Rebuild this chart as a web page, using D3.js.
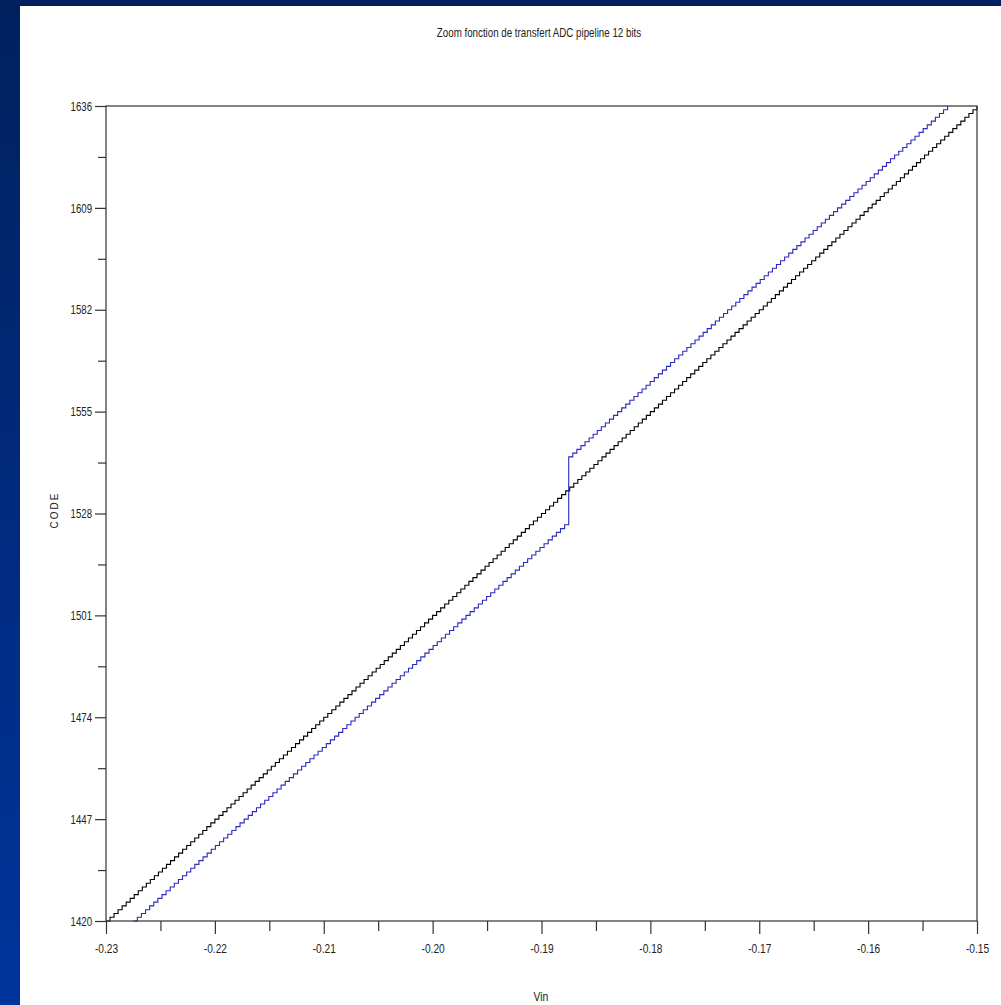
<!DOCTYPE html>
<html>
<head>
<meta charset="utf-8">
<script src="https://cdn.jsdelivr.net/npm/d3@7"></script>
<style>
  html, body { margin: 0; padding: 0; background: #fff; }
  svg { display: block; }
  text { font-family: "Liberation Sans", Arial, sans-serif; fill: #222; }
</style>
</head>
<body>
<div id="chart"></div>
<script>
// values
var xTicks = [-0.23, -0.22, -0.21, -0.20, -0.19, -0.18, -0.17, -0.16, -0.15];
var xTickLabels = ["-0.23", "-0.22", "-0.21", "-0.20", "-0.19", "-0.18", "-0.17", "-0.16", "-0.15"];
var yTicks = [1420, 1447, 1474, 1501, 1528, 1555, 1582, 1609, 1636];

// ideal converter (black): segment end points
var idealVin = [-0.23, -0.15];
var idealCode = [1420, 1636];

// pipeline ADC (blue): two segments with the missing codes jump near -0.1875
var adcVin = [-0.2275, -0.1875, -0.1875, -0.1527];
var adcCode = [1420, 1526, 1543, 1636];

var width = 1001, height = 1005;
var margin = {top: 106, right: 24, bottom: 84, left: 106};

var svg = d3.select("#chart")
  .append("svg")
    .attr("width", width)
    .attr("height", height);

// slide background: dark band on top and a blue gradient strip on the left
var defs = svg.append("defs");
var grad = defs.append("linearGradient")
  .attr("id", "band")
  .attr("x1", 0).attr("y1", 0).attr("x2", 0).attr("y2", 1);
grad.append("stop").attr("offset", "0%").attr("stop-color", "#00215e");
grad.append("stop").attr("offset", "100%").attr("stop-color", "#00349c");

svg.append("rect")
  .attr("x", 0).attr("y", 0)
  .attr("width", width).attr("height", 6)
  .attr("fill", "#00205e");
svg.append("rect")
  .attr("x", 0).attr("y", 0)
  .attr("width", 20).attr("height", height)
  .attr("fill", "url(#band)");

var x = d3.scaleLinear()
  .domain([-0.23, -0.15])
  .range([margin.left, width - margin.right]);

var y = d3.scaleLinear()
  .domain([1420, 1636])
  .range([height - margin.bottom, margin.top]);

// build the quantized staircase from segment end points
function staircase(vins, codes) {
  var pts = [];
  for (var s = 0; s < vins.length; s += 2) {
    var v0 = vins[s], v1 = vins[s + 1];
    var c0 = codes[s], c1 = codes[s + 1];
    var lsb = (v1 - v0) / (c1 - c0);
    for (var k = c0; k <= c1; k++) {
      pts.push([v0 + (k - c0) * lsb, k]);
    }
  }
  return pts;
}

var line = d3.line()
  .x(function(d) { return x(d[0]); })
  .y(function(d) { return y(d[1]); })
  .curve(d3.curveStepAfter);

svg.append("path")
  .datum(staircase(idealVin, idealCode))
  .attr("d", line)
  .attr("fill", "none")
  .attr("stroke", "#000")
  .attr("stroke-width", 1.1);

svg.append("path")
  .datum(staircase(adcVin, adcCode))
  .attr("d", line)
  .attr("fill", "none")
  .attr("stroke", "#2a2abb")
  .attr("stroke-width", 1.1);

// frame
svg.append("rect")
  .attr("x", x(-0.23)).attr("y", y(1636))
  .attr("width", x(-0.15) - x(-0.23))
  .attr("height", y(1420) - y(1636))
  .attr("fill", "none")
  .attr("stroke", "#333")
  .attr("stroke-width", 1.2);

// squeeze text horizontally to look like the narrow font of the original
function narrow(sel, f) {
  sel.each(function() {
    var w = this.getComputedTextLength();
    d3.select(this)
      .attr("textLength", w * f)
      .attr("lengthAdjust", "spacingAndGlyphs");
  });
}

// x axis
var xMinor = d3.range(0, 8).map(function(i) { return xTicks[i] + 0.005; });
var xAxis = d3.axisBottom(x)
  .tickValues(xTicks)
  .tickFormat(function(d, i) { return xTickLabels[i]; })
  .tickSize(13)
  .tickPadding(10);
var gx = svg.append("g")
  .attr("transform", "translate(0," + y(1420) + ")")
  .call(xAxis);
gx.select(".domain").remove();
gx.selectAll("line").attr("stroke", "#333").attr("stroke-width", 1.2);
gx.selectAll("text").attr("font-size", 13).attr("fill", "#222")
  .style("font-family", '"Liberation Sans", Arial, sans-serif')
  .call(narrow, 0.78);
svg.append("g")
  .attr("transform", "translate(0," + y(1420) + ")")
  .call(d3.axisBottom(x).tickValues(xMinor).tickSize(10).tickFormat(""))
  .call(function(g) { g.select(".domain").remove(); })
  .selectAll("line").attr("stroke", "#333").attr("stroke-width", 1.2);

// y axis
var yMinor = d3.range(0, 8).map(function(i) { return yTicks[i] + 13.5; });
var yAxis = d3.axisLeft(y)
  .tickValues(yTicks)
  .tickFormat(d3.format("d"))
  .tickSize(11)
  .tickPadding(3);
var gy = svg.append("g")
  .attr("transform", "translate(" + x(-0.23) + ",0)")
  .call(yAxis);
gy.select(".domain").remove();
gy.selectAll("line").attr("stroke", "#333").attr("stroke-width", 1.2);
gy.selectAll("text").attr("font-size", 13).attr("fill", "#222")
  .style("font-family", '"Liberation Sans", Arial, sans-serif')
  .call(narrow, 0.74);
svg.append("g")
  .attr("transform", "translate(" + x(-0.23) + ",0)")
  .call(d3.axisLeft(y).tickValues(yMinor).tickSize(8).tickFormat(""))
  .call(function(g) { g.select(".domain").remove(); })
  .selectAll("line").attr("stroke", "#333").attr("stroke-width", 1.2);

// titles
svg.append("text")
  .attr("x", 539).attr("y", 37)
  .attr("text-anchor", "middle")
  .attr("font-size", 13)
  .text("Zoom fonction de transfert ADC pipeline 12 bits")
  .call(narrow, 0.75);

svg.append("text")
  .attr("x", 541).attr("y", 1001)
  .attr("text-anchor", "middle")
  .attr("font-size", 13)
  .text("Vin")
  .call(narrow, 0.8);

svg.append("text")
  .attr("transform", "translate(58,510) rotate(-90)")
  .attr("text-anchor", "middle")
  .attr("font-size", 10)
  .attr("letter-spacing", 2)
  .style("font-family", '"Liberation Sans", Arial, sans-serif')
  .text("CODE");
</script>
</body>
</html>
